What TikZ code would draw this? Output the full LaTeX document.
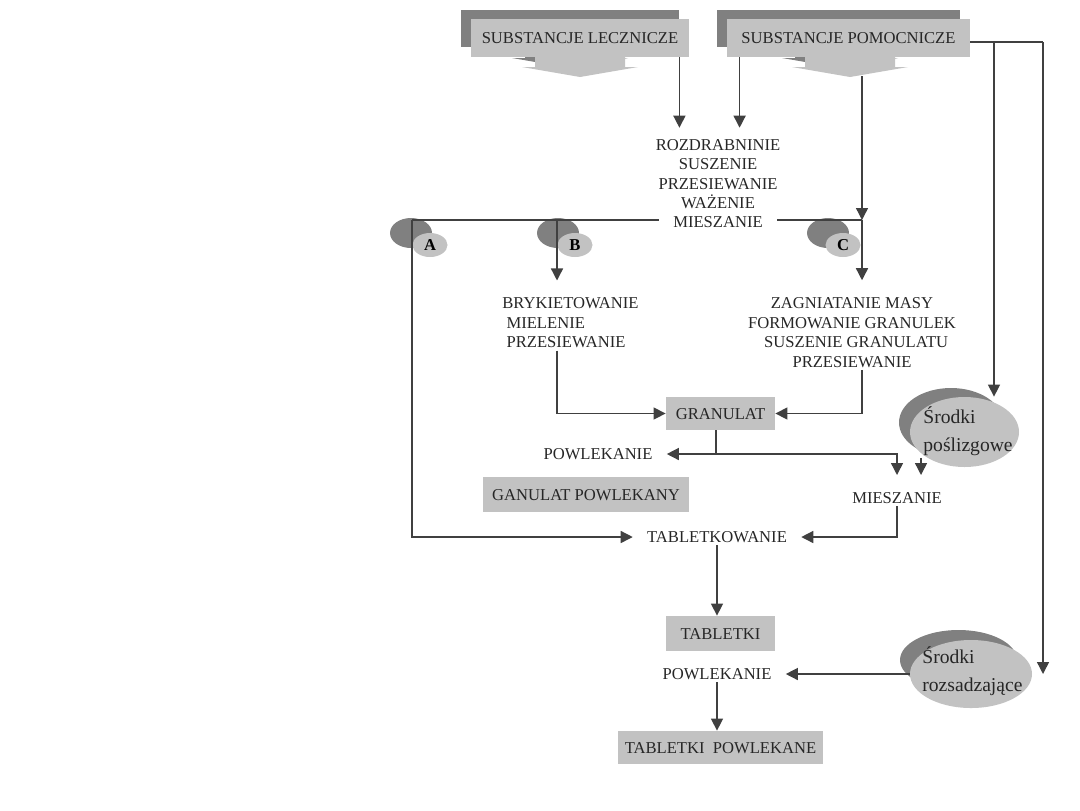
\documentclass[tikz,border=0pt]{standalone}
\usepackage{fontspec}
\setmainfont{Liberation Serif}
\usepackage{xcolor}
\usepackage{tikz}
\usetikzlibrary{arrows.meta,shapes.geometric}

\definecolor{backgray}{gray}{0.50}
\definecolor{boxgray}{gray}{0.76}
\definecolor{linegray}{gray}{0.25}

\tikzset{
  txt/.style={font=\fontsize{8.3}{9.75}\selectfont, text=black!85, inner ysep=1pt, inner xsep=7pt},
  caps/.style={txt, text height=5.6pt, text depth=0pt},
  gbox/.style={caps, fill=boxgray, inner sep=0pt},
  flow/.style={draw=linegray, line width=0.7pt},
  arr/.style={flow, -{Triangle[length=6pt,width=6pt]}},
  blob/.style={ellipse, inner sep=0pt, fill=boxgray},
  agent/.style={txt, align=left, inner xsep=1pt, font=\fontsize{9.8}{14}\selectfont},
}

\begin{document}
\begin{tikzpicture}[x=0.5pt,y=-0.5pt]
    \useasboundingbox (0,0) rectangle (1080,810);

    % top boxes with their block arrows
    \fill[backgray] (461,10) rectangle (679,47);
    \fill[backgray] (525,48) -- (615,48) -- (615,58) -- (628,58) -- (570,68) -- (512,58) -- (525,58) -- cycle;
    \fill[boxgray] (535,57) -- (625,57) -- (625,67) -- (638,67) -- (580,77) -- (522,67) -- (535,67) -- cycle;
    \node[gbox, minimum width=109pt, minimum height=19pt] (lek) at (580,38) {SUBSTANCJE LECZNICZE};

    \fill[backgray] (717,10) rectangle (960,47);
    \fill[backgray] (795,48) -- (885,48) -- (885,58) -- (898,58) -- (840,68) -- (782,58) -- (795,58) -- cycle;
    \fill[boxgray] (805,57) -- (895,57) -- (895,67) -- (908,67) -- (850,77) -- (792,67) -- (805,67) -- cycle;
    \node[gbox, minimum width=121.5pt, minimum height=19pt] (pom) at (848.5,38) {SUBSTANCJE POMOCNICZE};

    % A, B, C
    \fill[backgray] (411,233) ellipse [x radius=10.5pt, y radius=7.5pt];
    \node[blob, minimum width=17.5pt, minimum height=12pt, font=\bfseries\fontsize{8.3}{9}\selectfont] (elA) at (430,245) {A};
    \fill[backgray] (558,233) ellipse [x radius=10.5pt, y radius=7.5pt];
    \node[blob, minimum width=17.5pt, minimum height=12pt, font=\bfseries\fontsize{8.3}{9}\selectfont] (elB) at (575,245) {B};
    \fill[backgray] (828,233) ellipse [x radius=10.5pt, y radius=7.5pt];
    \node[blob, minimum width=17.5pt, minimum height=12pt, font=\bfseries\fontsize{8.3}{9}\selectfont] (elC) at (843,245) {C};

    % auxiliary substances
    \fill[backgray] (951,422.5) ellipse [x radius=26pt, y radius=17.25pt];
    \node[blob, minimum width=54.5pt, minimum height=35pt] (pslE) at (964.5,432) {};
    \node[agent, anchor=west] (psl) at (921,431) {Środki\\poślizgowe};
    \fill[backgray] (958.5,660) ellipse [x radius=29.25pt, y radius=15pt];
    \node[blob, minimum width=61pt, minimum height=34pt] (rozE) at (971,674) {};
    \node[agent, anchor=west] (roz) at (920,671) {Środki\\rozsadzające};

    % steps
    \node[txt, align=center] (prep) at (718,174) {ROZDRABNINIE\\SUSZENIE\\PRZESIEWANIE\\WAŻENIE};
    \node[caps] (mix1) at (718,222) {MIESZANIE};
    \node[txt, align=left, anchor=west] (bryk) at (488,323) {BRYKIETOWANIE\\\ MIELENIE\\\ PRZESIEWANIE};
    \node[txt, align=center] (zag) at (852,332.5) {ZAGNIATANIE MASY\\FORMOWANIE GRANULEK\\\ \ SUSZENIE GRANULATU\\PRZESIEWANIE};
    \node[gbox, minimum width=54.5pt, minimum height=16.5pt] (gran) at (720.5,413.5) {GRANULAT};
    \node[caps] (pow1) at (598,454) {POWLEKANIE};
    \node[gbox, minimum width=103pt, minimum height=17.5pt] (gpow) at (586,494.5) {GANULAT POWLEKANY};
    \node[caps] (mix2) at (897,498) {MIESZANIE};
    \node[caps] (tab) at (717,537) {TABLETKOWANIE};
    \node[gbox, minimum width=54.5pt, minimum height=17.5pt] (tabl) at (720.5,633.5) {TABLETKI};
    \node[caps] (pow2) at (717,674) {POWLEKANIE};
    \node[gbox, minimum width=102.5pt, minimum height=16.5pt] (tp) at (720.5,747.5) {TABLETKI\ \ POWLEKANE};

    % junctions
    \coordinate (lekOut) at ([xshift=-5pt]lek.south east);
    \coordinate (pomOut) at ([xshift=6.5pt]pom.south west);
    \coordinate (pomTip) at (862,76);
    \coordinate (jA) at (412,220);
    \coordinate (jB) at (557,220);
    \coordinate (jC) at (862,220);
    \coordinate (jG) at (716,454);
    \coordinate (rSplit) at (994,42);
    \coordinate (rTop) at (1043,42);

    % connectors
    \draw[arr, shorten >=4.5pt] (lekOut) -- (lekOut |- prep.north);
    \draw[arr, shorten >=4.5pt] (pomOut) -- (pomOut |- prep.north);
    \draw[arr] (pomTip) -- (jC);
    \draw[flow] (jA -| mix1.west) -- (jA);
    \draw[flow] (jC -| mix1.east) -- (jC);
    \draw[arr] (jA) |- (tab.west);
    \draw[arr, shorten >=7.5pt] (jB) -- (jB |- bryk.north);
    \draw[arr, shorten >=7.5pt] (jC) -- (jC |- zag.north);
    \draw[arr] (bryk.south -| jB) |- (gran.west);
    \draw[arr] (zag.south -| jC) |- (gran.east);
    \draw[flow] (gran.south -| jG) -- (jG);
    \draw[arr] (jG) -- (pow1.east);
    \draw[arr, shorten >=7.5pt] (jG) -| (mix2.north);
    \draw[arr, shorten >=7.5pt] (psl.south west) -- (psl.south west |- mix2.north);
    \draw[arr] (mix2.south) |- (tab.east);
    \draw[arr] (tab.south) -- (tab.south |- tabl.north);
    \draw[arr] (rozE.west) -- (pow2.east);
    \draw[arr] (pow2.south) -- (pow2.south |- tp.north);
    \draw[flow] ([yshift=-2pt]pom.east) -- (rTop);
    \draw[arr] (rSplit) -- (rSplit |- pslE.north);
    \draw[arr] (rTop) -- (rTop |- rozE.east);
\end{tikzpicture}
\end{document}
